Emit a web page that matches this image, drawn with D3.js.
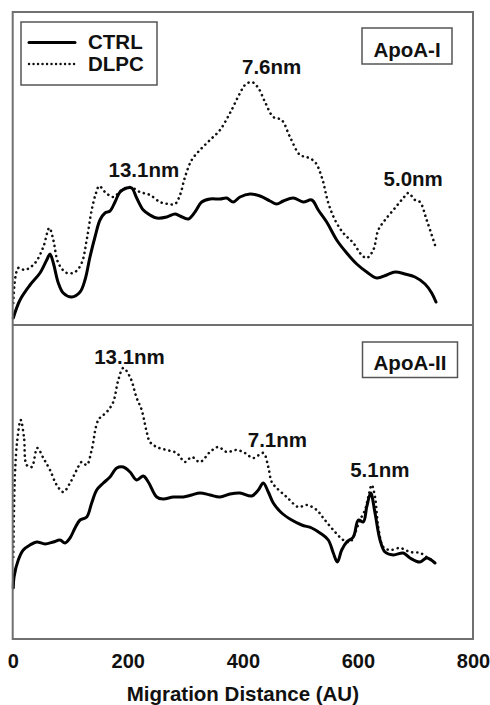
<!DOCTYPE html>
<html>
<head>
<meta charset="utf-8">
<script src="https://cdn.jsdelivr.net/npm/d3@7/dist/d3.min.js"></script>
<style>
  html, body { margin: 0; padding: 0; background: #fff; }
  svg { display: block; }
  text { font-family: "Liberation Sans", Arial, Helvetica, sans-serif; font-weight: bold; fill: #111; }
</style>
</head>
<body>
<svg id="chart" width="490" height="705"></svg>
<script>
// Densitometric scans of native gels: [migration distance (AU), intensity (AU)]
const apoA1_ctrl = [[1.0,7],[12.7,25],[30.1,40],[47.4,52],[59.1,65],[64.8,71],[70.6,62],[79.3,42],[87.9,32],[102.5,28],[117.0,33],[125.6,45],[134.3,68],[143.0,88],[151.7,105],[160.4,112],[169.1,114],[177.8,123],[186.5,133],[198.1,137],[206.8,137],[215.5,127],[227.0,115],[238.6,110],[250.3,107],[267.7,108],[282.1,111],[290.8,109],[305.2,106],[316.8,113],[328.5,123],[342.9,126],[360.3,126],[371.9,127],[383.4,123],[395.1,128],[412.4,131],[429.8,129],[447.2,124],[458.8,121],[470.3,124],[487.6,127],[505.0,123],[519.7,125],[531.1,115],[545.7,103],[563.1,85],[580.5,72],[597.9,61],[615.3,53],[632.6,47],[650.0,50],[664.4,53],[681.8,51],[699.2,48],[716.6,41],[728.2,32],[735.7,23]];
const apoA1_dlpc = [[1.0,22],[9.7,57],[21.4,55],[38.8,62],[53.2,78],[63.6,97],[70.6,85],[79.3,62],[93.9,52],[108.3,53],[119.9,62],[128.6,85],[137.3,115],[144.8,132],[150.5,139],[160.4,133],[174.8,128],[189.4,135],[203.9,138],[221.2,133],[238.6,130],[256.0,123],[270.4,121],[282.1,121],[290.8,130],[299.5,148],[311.1,165],[325.5,175],[342.9,185],[360.3,195],[377.7,212],[395.1,232],[403.7,240],[415.4,243],[426.9,237],[438.5,223],[452.9,208],[467.5,205],[481.9,188],[499.3,170],[510.9,168],[525.4,163],[537.0,148],[548.5,122],[560.2,105],[574.6,92],[592.0,82],[606.6,70],[615.3,67],[626.7,75],[635.4,95],[647.1,105],[664.4,117],[678.8,127],[687.5,132],[699.2,125],[707.9,123],[719.5,105],[733.9,80]];
const apoA2_ctrl = [[1.0,51],[2.3,62],[9.7,79],[18.4,89],[30.1,94],[41.7,97],[56.1,95],[70.6,97],[82.2,99],[90.9,96],[99.6,101],[108.3,111],[117.0,119],[128.6,122],[137.3,136],[146.0,149],[157.5,156],[169.1,162],[180.8,171],[192.2,172],[203.9,167],[215.5,159],[227.0,163],[235.7,157],[250.3,142],[261.7,140],[279.1,142],[296.5,142],[311.1,144],[325.5,146],[342.9,144],[360.3,142],[377.7,145],[395.1,146],[415.4,143],[426.9,149],[435.5,156],[444.2,147],[452.9,136],[467.5,126],[484.9,119],[502.3,114],[519.7,111],[534.1,106],[548.5,99],[557.2,86],[564.2,77],[571.8,89],[580.5,97],[592.0,102],[600.7,119],[609.3,117],[615.3,132],[622.2,146],[629.7,126],[638.4,99],[647.1,87],[661.5,84],[678.8,86],[690.5,81],[707.9,77],[719.5,81],[733.9,76]];
const apoA2_dlpc = [[1.0,82],[4.0,166],[8.0,199],[13.9,219],[19.6,202],[24.3,174],[33.0,172],[42.8,191],[53.2,181],[64.8,169],[76.5,154],[87.9,147],[99.6,156],[111.2,169],[119.9,177],[128.6,174],[137.3,189],[148.8,219],[163.4,227],[174.8,237],[183.5,259],[192.2,271],[203.9,262],[215.5,241],[224.2,229],[232.9,207],[238.6,197],[250.3,192],[267.7,189],[285.0,186],[299.5,177],[311.1,182],[325.5,177],[342.9,187],[357.3,192],[371.9,187],[389.3,189],[403.7,186],[418.2,181],[435.5,186],[444.2,172],[450.1,157],[458.8,151],[476.2,142],[496.4,132],[510.9,134],[528.4,129],[539.8,121],[557.2,109],[574.6,99],[586.2,97],[594.9,106],[603.6,119],[612.3,129],[618.0,142],[623.9,154],[629.7,142],[635.4,112],[644.1,92],[655.7,89],[673.1,91],[690.5,87],[707.9,86],[719.5,82],[733.9,77]];

// Particle-size annotations: [label, migration distance, intensity]
const apoA1_labels = [["13.1nm",228,148],["7.6nm",450,251],["5.0nm",696,139]];
const apoA2_labels = [["13.1nm",203,275],["7.1nm",460,192],["5.1nm",638,162]];

const xTicks = [0, 200, 400, 600, 800];
const seriesNames = ["CTRL", "DLPC"];
const panelNames = ["ApoA-I", "ApoA-II"];

const svg = d3.select("#chart");
const frameL = 12.7, frameR = 473, frameT = 12, frameMid = 325, frameB = 639;

const x = d3.scaleLinear().domain([0, 800]).range([frameL, frameR]);
const yTop = d3.scaleLinear().domain([0, 313]).range([frameMid, frameT]);
const yBot = d3.scaleLinear().domain([0, 314]).range([frameB, frameMid]);

const solid = { stroke: "#000", width: 3, dash: null, cap: "round" };
const dotted = { stroke: "#111", width: 2.6, dash: "0.1 5", cap: "round" };

function drawPanel(y, ctrl, dlpc, labels, name, box) {
  const line = d3.line().x(d => x(d[0])).y(d => y(d[1])).curve(d3.curveCatmullRom.alpha(0.5));
  [[dlpc, dotted], [ctrl, solid]].forEach(([data, st]) => {
    svg.append("path")
      .attr("d", line(data))
      .attr("fill", "none")
      .attr("stroke", st.stroke)
      .attr("stroke-width", st.width)
      .attr("stroke-linecap", st.cap)
      .attr("stroke-linejoin", "round")
      .attr("stroke-dasharray", st.dash);
  });
  labels.forEach(([t, lx, ly]) => {
    svg.append("text").attr("x", x(lx)).attr("y", y(ly))
      .attr("text-anchor", "middle").attr("font-size", 20.5).text(t);
  });
  svg.append("rect").attr("x", box[0]).attr("y", box[1])
    .attr("width", box[2] - box[0]).attr("height", box[3] - box[1])
    .attr("fill", "#fff").attr("stroke", "#555").attr("stroke-width", 1.5);
  svg.append("text").attr("x", (box[0] + box[2]) / 2).attr("y", box[3] - 7.5)
    .attr("text-anchor", "middle").attr("font-size", 20.5).text(name);
}

drawPanel(yTop, apoA1_ctrl, apoA1_dlpc, apoA1_labels, panelNames[0], [362, 28, 452, 64]);
drawPanel(yBot, apoA2_ctrl, apoA2_dlpc, apoA2_labels, panelNames[1], [362.5, 342, 457.5, 377.5]);

// Frame and panel divider
svg.append("rect").attr("x", frameL).attr("y", frameT)
  .attr("width", frameR - frameL).attr("height", frameB - frameT)
  .attr("fill", "none").attr("stroke", "#707070").attr("stroke-width", 2);
svg.append("line").attr("x1", frameL).attr("x2", frameR).attr("y1", frameMid).attr("y2", frameMid)
  .attr("stroke", "#707070").attr("stroke-width", 2);

// Bottom axis: labels only
const axis = d3.axisBottom(x).tickValues(xTicks).tickSize(0).tickPadding(0).tickFormat(d3.format("d"));
const gx = svg.append("g").attr("transform", `translate(0,${frameB})`).call(axis);
gx.select(".domain").remove();
gx.selectAll("text").attr("dy", null).attr("y", 29)
  .attr("font-size", 20).attr("font-family", null).attr("fill", "#111");

svg.append("text").attr("x", (frameL + frameR) / 2).attr("y", 701)
  .attr("text-anchor", "middle").attr("font-size", 20.5).text("Migration Distance (AU)");

// Legend
const lg = svg.append("g");
lg.append("rect").attr("x", 21).attr("y", 22).attr("width", 136).attr("height", 63)
  .attr("fill", "#fff").attr("stroke", "#555").attr("stroke-width", 1.5);
[[solid, 42.5, seriesNames[0]], [dotted, 64, seriesNames[1]]].forEach(([st, ly, t]) => {
  lg.append("line").attr("x1", 29).attr("x2", 75).attr("y1", ly).attr("y2", ly)
    .attr("stroke", st.stroke).attr("stroke-width", st === solid ? 3 : 2.4)
    .attr("stroke-linecap", st.cap).attr("stroke-dasharray", st === solid ? null : "0.1 4.4");
  lg.append("text").attr("x", 88).attr("y", ly + 6.5).attr("font-size", 20.5).text(t);
});
</script>
</body>
</html>
